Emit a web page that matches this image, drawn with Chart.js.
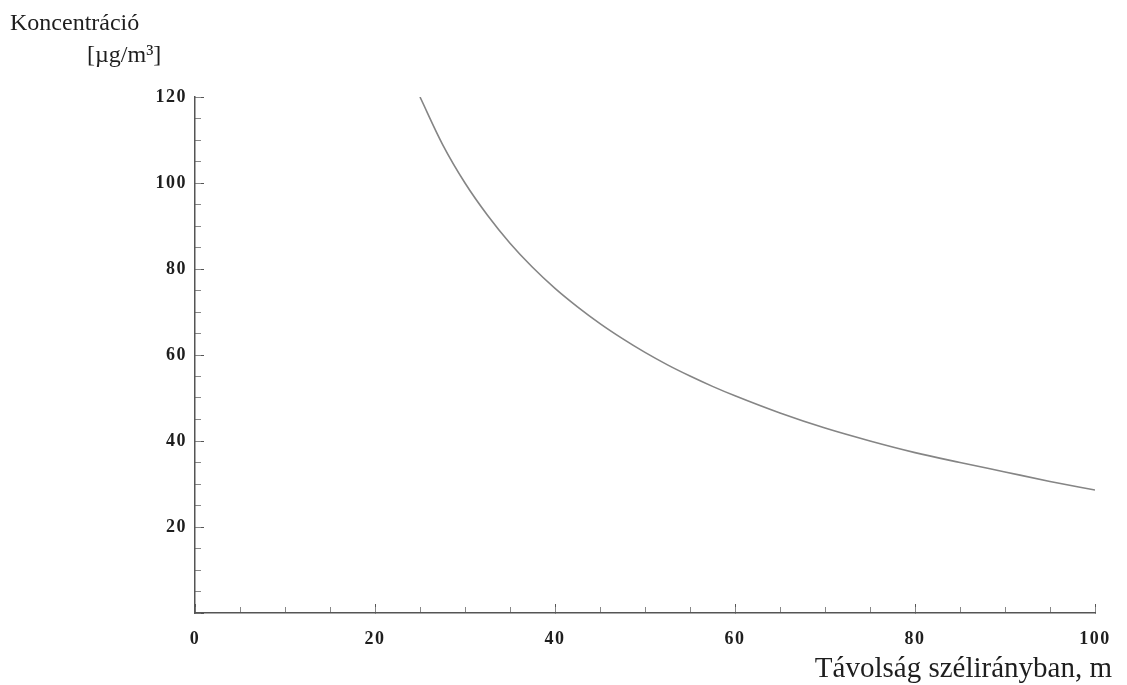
<!DOCTYPE html>
<html lang="hu">
<head>
<meta charset="utf-8">
<title>Koncentráció</title>
<script src="https://cdn.jsdelivr.net/npm/chart.js@4.4.1/dist/chart.umd.min.js"></script>
<style>
    html, body { margin: 0; padding: 0; background: #fff; }
    #wrap { width: 1127px; height: 685px; position: relative; }
</style>
</head>
<body>
<div id="wrap"><canvas id="chart"></canvas></div>
<script>
// values
const distance = [25, 27.5, 30, 32.5, 35, 37.5, 40, 42.5, 45, 47.5, 50, 52.5, 55, 57.5, 60,
                  65, 70, 75, 80, 85, 90, 95, 100];
const concentration = [120, 109, 100, 92.5, 86, 80.4, 75.5, 71.2, 67.3, 63.8, 60.6, 57.7, 55.1, 52.7, 50.5,
                       46.5, 43, 40, 37.3, 35, 32.8, 30.6, 28.6];

const xRange = [0, 100];
const yRange = [0, 120];
const majorStep = 20;
const minorStep = 5;

const yTitle = ['Koncentráció', '[µg/m³]'];
const xTitle = 'Távolság szélirányban, m';

const serif = '"Liberation Serif", "Times New Roman", serif';
const inkColor = '#1e1e1e';
const axisColor = '#555';

// bold, spread-out digits on the tick labels only
const tickSpacing = {
    id: 'tickSpacing',
    beforeDraw: (chart) => { chart.ctx.letterSpacing = '1.5px'; },
    afterDatasetsDraw: (chart) => { chart.ctx.letterSpacing = '0px'; }
};

const axisTitles = {
    id: 'axisTitles',
    afterDraw: (chart) => {
        const ctx = chart.ctx;
        ctx.save();
        ctx.letterSpacing = '0px';
        ctx.fillStyle = inkColor;
        ctx.textBaseline = 'alphabetic';
        ctx.font = '24px ' + serif;
        ctx.textAlign = 'left';
        ctx.fillText(yTitle[0], 10, 30);
        ctx.fillText(yTitle[1], 87, 62);
        ctx.font = '29px ' + serif;
        ctx.textAlign = 'right';
        ctx.fillText(xTitle, 1112, 677);
        ctx.restore();
    }
};

const minorAxis = (position, range) => ({
    type: 'linear',
    position: position,
    min: range[0],
    max: range[1],
    weight: 0,
    afterFit: (scale) => {
        if (position === 'left') scale.width = 0; else scale.height = 0;
        scale.paddingLeft = scale.paddingRight = scale.paddingTop = scale.paddingBottom = 0;
    },
    border: { display: false },
    grid: { drawOnChartArea: false, tickLength: -6, color: '#888', tickColor: '#888' },
    ticks: { display: false, stepSize: minorStep }
});

document.addEventListener('DOMContentLoaded', () => {
    const ctx = document.getElementById('chart').getContext('2d');

    new Chart(ctx, {
        type: 'line',
        data: {
            datasets: [{
                data: distance.map((d, i) => ({ x: d, y: concentration[i] })),
                borderColor: '#858585',
                borderWidth: 1.6,
                pointRadius: 0,
                cubicInterpolationMode: 'monotone',
                fill: false,
                xAxisID: 'x',
                yAxisID: 'y'
            }]
        },
        options: {
            responsive: true,
            maintainAspectRatio: false,
            animation: false,
            layout: { padding: { left: 0, top: 97, right: 32, bottom: 0 } },
            plugins: {
                legend: { display: false },
                tooltip: { enabled: false }
            },
            scales: {
                x: {
                    type: 'linear',
                    position: 'bottom',
                    min: xRange[0],
                    max: xRange[1],
                    weight: 1,
                    afterFit: (scale) => {
                        scale.height = 72;
                        scale.paddingLeft = 0;
                        scale.paddingRight = 0;
                    },
                    border: { display: true, color: axisColor, width: 1.5 },
                    grid: { drawOnChartArea: false, tickLength: -9, tickColor: axisColor },
                    ticks: {
                        stepSize: majorStep,
                        padding: 25,
                        color: inkColor,
                        font: { family: serif, size: 18, weight: 'bold' }
                    }
                },
                x2: minorAxis('bottom', xRange),
                y: {
                    type: 'linear',
                    position: 'left',
                    min: yRange[0],
                    max: yRange[1],
                    weight: 1,
                    afterFit: (scale) => {
                        scale.width = 195;
                        scale.paddingTop = 0;
                        scale.paddingBottom = 0;
                    },
                    border: { display: true, color: axisColor, width: 1.5 },
                    grid: { drawOnChartArea: false, tickLength: -9, tickColor: axisColor },
                    ticks: {
                        stepSize: majorStep,
                        padding: 17,
                        color: inkColor,
                        font: { family: serif, size: 18, weight: 'bold' },
                        callback: (value) => value === 0 ? '' : value
                    }
                },
                y2: minorAxis('left', yRange)
            }
        },
        plugins: [tickSpacing, axisTitles]
    });
});
</script>
</body>
</html>
